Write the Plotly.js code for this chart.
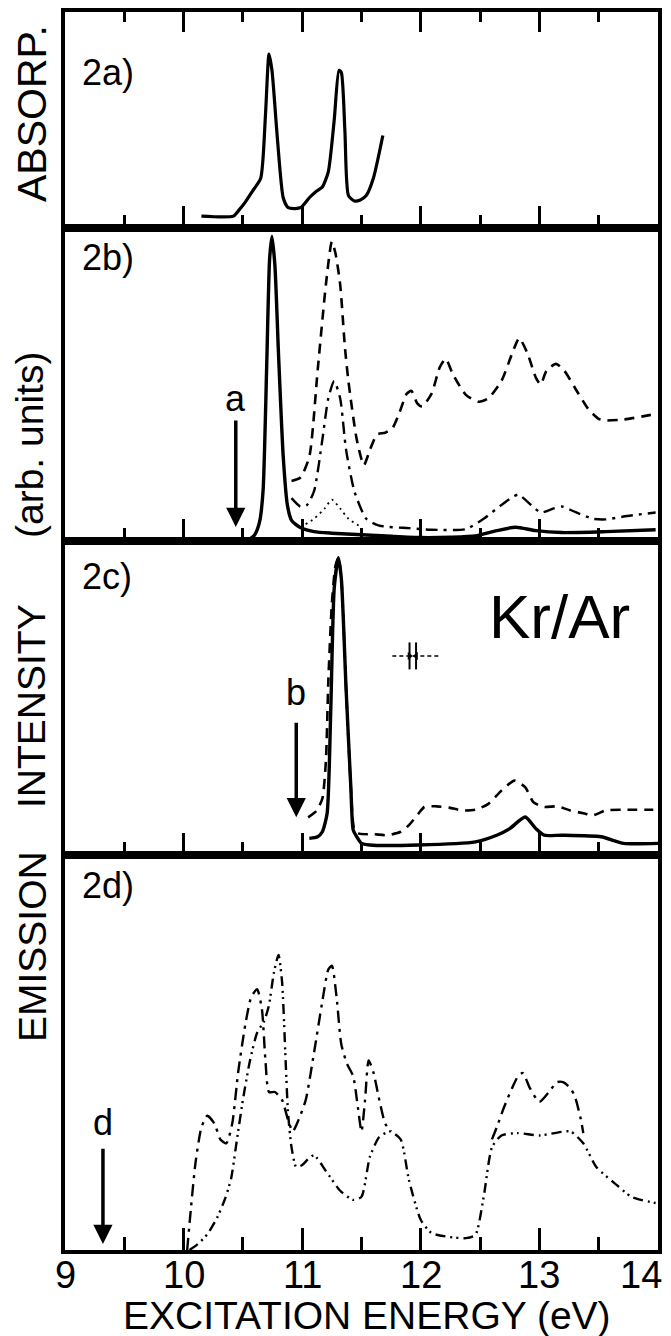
<!DOCTYPE html>
<html>
<head>
<meta charset="utf-8">
<script src="https://cdn.plot.ly/plotly-3.0.1.min.js"></script>
<style>html,body{margin:0;padding:0;background:#fff;}#chart{width:671px;height:1336px;}</style>
</head>
<body>
<div id="chart"></div>
<script>
// ---------- DATA (excitation energy in eV, intensity in arbitrary units 0-100 of panel height) ----------
// Panel 2a: absorption
const absE = [10.15, 10.42, 10.47, 10.52, 10.58, 10.65, 10.69, 10.72, 10.745, 10.79, 10.84, 10.88, 10.94, 10.99, 11.06, 11.12, 11.17, 11.22, 11.27, 11.31, 11.33, 11.36, 11.39, 11.44, 11.49, 11.54, 11.6, 11.68];
const absI = [5.5, 5.5, 8.5, 12, 17, 23, 52, 80.5, 73, 42, 14, 9.5, 9, 9.5, 14, 17, 19, 26, 50, 73, 72, 45, 15, 12.5, 13, 15, 23, 42.8];

// Panel 2b
const bSolidE = [10.555, 10.6, 10.64, 10.67, 10.7, 10.725, 10.745, 10.77, 10.8, 10.84, 10.875, 10.91, 10.98, 11.1, 11.25, 11.5, 11.75, 12.0, 12.25, 12.46, 12.64, 12.8, 12.97, 13.19, 13.56, 13.98];
const bSolidI = [0.5, 2, 6, 16, 55, 90, 97.3, 88, 60, 27, 11.5, 6.6, 4.4, 3, 2.5, 2, 1.5, 1.1, 1.2, 1.6, 3.3, 4.4, 3.3, 2.7, 3, 3.6];
const bDashE = [10.91, 10.985, 11.06, 11.13, 11.2, 11.25, 11.28, 11.32, 11.36, 11.39, 11.46, 11.52, 11.57, 11.63, 11.7, 11.76, 11.82, 11.88, 11.92, 11.97, 12.01, 12.09, 12.16, 12.21, 12.27, 12.38, 12.49, 12.57, 12.68, 12.77, 12.83, 12.9, 12.97, 13.01, 13.06, 13.14, 13.21, 13.3, 13.41, 13.5, 13.56, 13.71, 13.94];
const bDashI = [19.2, 20.3, 26.9, 54.4, 82, 95.6, 92, 82, 62, 51, 32.4, 24.2, 29, 34, 34.6, 36, 41, 47, 48, 44, 43, 47, 55.5, 58.2, 53.3, 46.7, 44.5, 45.6, 51.1, 59.9, 64.8, 59.9, 52.2, 50, 54.4, 56.6, 54.4, 48.9, 42.3, 39, 38.5, 38.8, 40.3];
const bDashDotE = [10.91, 10.985, 11.04, 11.1, 11.17, 11.22, 11.27, 11.32, 11.37, 11.44, 11.54, 11.65, 11.9, 12.09, 12.38, 12.53, 12.68, 12.82, 12.93, 13.01, 13.12, 13.19, 13.3, 13.45, 13.56, 13.74, 13.98];
const bDashDotI = [13.7, 11, 11.5, 15.9, 32.4, 45.6, 51.1, 45.6, 29.1, 15.9, 7.1, 4.9, 4.1, 3.6, 3.8, 7.1, 11.5, 14.8, 11.5, 9.1, 10.4, 11, 9.3, 7.1, 6.9, 8, 9.1];
const bDotE = [10.985, 11.1, 11.19, 11.25, 11.32, 11.39, 11.5];
const bDotI = [4.4, 7.1, 10.4, 13.2, 10.4, 7.1, 4.4];

// Panel 2c
const cSolidE = [11.06, 11.13, 11.17, 11.21, 11.24, 11.27, 11.305, 11.33, 11.37, 11.41, 11.43, 11.46, 11.5, 11.57, 11.98, 12.46, 12.64, 12.75, 12.88, 12.97, 13.04, 13.19, 13.52, 13.71, 14.0];
const cSolidI = [5.3, 5.8, 7.4, 13.2, 45, 85, 94.7, 88, 53, 21.6, 8, 5.8, 3.7, 3.2, 3.2, 4.2, 6.3, 8.4, 12.1, 8.4, 6.3, 6.3, 5.8, 3.7, 3.7];
const cDashE = [11.05, 11.12, 11.17, 11.2, 11.22, 11.25, 11.28, 11.305, 11.33, 11.37, 11.41, 11.44, 11.48, 11.61, 11.72, 11.83, 11.9, 11.98, 12.03, 12.13, 12.24, 12.35, 12.46, 12.57, 12.68, 12.79, 12.88, 12.95, 13.04, 13.15, 13.26, 13.38, 13.45, 13.56, 13.71, 13.96];
const cDashI = [12, 14, 18, 30, 55, 80, 92, 94.7, 88, 53, 21.6, 8, 6.8, 6.6, 6.3, 7.4, 9.5, 13.2, 15.3, 15.5, 15.1, 14.2, 14.4, 16.3, 20.5, 23.7, 21.6, 16.8, 15.3, 15.5, 14.2, 13.2, 12.6, 14.2, 14.4, 14.4];
// resolution indicator (energy span and level)
const resE = [11.76, 12.16];
const resI = [63.4, 63.4];
const resBarE = [11.905, 11.96];

// Panel 2d
const dDashDotE = [10.03, 10.06, 10.1, 10.15, 10.2, 10.26, 10.31, 10.36, 10.41, 10.46, 10.52, 10.57, 10.62, 10.66, 10.69, 10.72, 10.77, 10.83, 10.88, 10.92, 10.97, 11.03, 11.1, 11.17, 11.22, 11.25, 11.29, 11.33, 11.38, 11.43, 11.47, 11.5, 11.53, 11.56, 11.6, 11.65, 11.7, 11.75, null, 12.6, 12.64, 12.7, 12.77, 12.82, 12.86, 12.92, 13.0, 13.08, 13.15, 13.2, 13.26, 13.3, 13.35, 13.37];
const dDashDotI = [0, 10, 22, 31, 34, 32, 28, 27, 32, 45, 57, 64, 66, 61, 48, 40, 40, 38, 33, 30, 33, 38, 50, 63, 71, 72, 64, 52, 47, 44, 36, 30, 38, 48, 45, 38, 32, 30, null, 28, 31, 36, 41, 44, 44.8, 41, 37.5, 40, 42.5, 42.5, 41, 38.8, 33, 29.6];
const dDashDotDotE = [10.05, 10.12, 10.2, 10.28, 10.35, 10.4, 10.45, 10.5, 10.56, 10.62, 10.68, 10.72, 10.76, 10.8, 10.83, 10.86, 10.88, 10.91, 10.95, 11.0, 11.05, 11.1, 11.2, 11.32, 11.43, 11.5, 11.57, 11.65, 11.74, 11.83, 11.9, 12.0, 12.09, 12.24, 12.38, 12.46, 12.53, 12.6, 12.68, 12.82, 13.0, 13.26, 13.37, 13.48, 13.63, 13.78, 13.98];
const dDashDotDotI = [0, 1.5, 4, 8, 13, 18, 28, 38, 48, 55, 58, 62, 70, 74.7, 68, 48, 35, 26, 21, 21.5, 23, 24, 20, 15, 12.7, 13.5, 23.5, 28.6, 30, 28, 17.7, 7.6, 4.3, 3.3, 3, 3.8, 13.4, 26, 29, 29.6, 29, 30, 27, 21, 17, 13.4, 11.9];

// Tick labels
const tickVals = [9, 10, 11, 12, 13, 14];
const tickText = ['9', '10', '11', '12', '13', '14'];

// Marker arrows (excitation energies) : [energy, tail level, head level, label level]
const arrowA = [10.44, 39, 4.5, 45.6];
const arrowB = [10.95, 42.6, 12, 51.9];
const arrowD = [9.32, 26, 1.5, 32.4];

// ---------- STYLE ----------
const FONT = 'Liberation Sans, Arial, sans-serif';
const K = '#000';

function tr(x, y, xa, ya, dash, width) {
  return {x: x, y: y, xaxis: xa, yaxis: ya, type: 'scatter', mode: 'lines',
          line: {color: K, width: width, dash: dash, shape: 'spline', smoothing: 0.6},
          hoverinfo: 'skip', showlegend: false};
}
// invisible copy of the absorption data, to register the top tick axes of panel 2a
function hiddenOn(xa) {
  return {x: absE, y: absI, xaxis: xa, yaxis: 'y', type: 'scatter', mode: 'lines', opacity: 0,
          line: {width: 0.1, color: K}, hoverinfo: 'skip', showlegend: false};
}

const traces = [
  tr(absE, absI, 'x', 'y', 'solid', 3.2),
  hiddenOn('x5'),
  hiddenOn('x6'),
  tr(bSolidE, bSolidI, 'x2', 'y2', 'solid', 3.4),
  tr(bDashE, bDashI, 'x2', 'y2', '10px,7px', 2.6),
  tr(bDashDotE, bDashDotI, 'x2', 'y2', '12px,6px,3px,6px', 2.4),
  tr(bDotE, bDotI, 'x2', 'y2', '2px,4px', 1.8),
  tr(cDashE, cDashI, 'x3', 'y3', '10px,7px', 2.6),
  tr(cSolidE, cSolidI, 'x3', 'y3', 'solid', 3.4),
  {x: resE, y: resI, xaxis: 'x3', yaxis: 'y3', type: 'scatter', mode: 'lines',
   line: {color: K, width: 1.5, dash: '4px,3px'}, hoverinfo: 'skip', showlegend: false},
  {x: [resBarE[0], resBarE[0], null, resBarE[1], resBarE[1]],
   y: [resI[0] - 4.3, resI[0] + 4.3, null, resI[0] - 4.3, resI[0] + 4.3],
   xaxis: 'x3', yaxis: 'y3', type: 'scatter', mode: 'lines',
   line: {color: K, width: 2}, hoverinfo: 'skip', showlegend: false},
  {x: resBarE, y: resI, xaxis: 'x3', yaxis: 'y3', type: 'scatter', mode: 'markers',
   marker: {symbol: ['triangle-right', 'triangle-left'], size: 7, color: K},
   hoverinfo: 'skip', showlegend: false},
  tr(dDashDotE, dDashDotI, 'x4', 'y4', '12px,6px,3px,6px', 2.4),
  tr(dDashDotDotE, dDashDotDotI, 'x4', 'y4', '10px,5px,2px,4px,2px,5px', 2.4)
];

function xax(anchor, extra) {
  return Object.assign({
    anchor: anchor, range: [9, 14], showgrid: false, zeroline: false,
    showline: true, linecolor: K, linewidth: 4, mirror: true,
    ticks: 'inside', ticklen: 22, tickwidth: 3, tickcolor: K, tick0: 9, dtick: 1,
    minor: {ticks: 'inside', dtick: 0.5, tick0: 9, ticklen: 13, tickwidth: 3, tickcolor: K, showgrid: false},
    showticklabels: false, fixedrange: true
  }, extra || {});
}
function topax(dtick, len) {
  return {overlaying: 'x', side: 'top', anchor: 'y', range: [9, 14], showline: false,
          ticks: 'inside', ticklen: len, tickwidth: 3, tickcolor: K, dtick: dtick, tick0: 9,
          showticklabels: false, showgrid: false, zeroline: false};
}
function yax(anchor, domain) {
  return {anchor: anchor, domain: domain, range: [0, 100], showgrid: false, zeroline: false,
          showline: true, linecolor: K, linewidth: 4, mirror: true, ticks: '',
          showticklabels: false, fixedrange: true};
}

const H = 1238; // plot-area height in px
const py = p => (1250 - p) / H;
const last = tickVals.length - 1;

// tick labels of the bottom axis, placed at the axis positions of tickVals
const tickLabelAnns = tickVals.map((v, i) => ({
  text: tickText[i], xref: 'x4', yref: 'paper', x: v, y: py(1275),
  xanchor: i === last ? 'right' : 'center', xshift: i === last ? 6 : 0,
  yanchor: 'middle', showarrow: false, font: {size: 38}
}));

const layout = {
  width: 671, height: 1336,
  margin: {l: 65, r: 13, t: 12, b: 86},
  paper_bgcolor: '#fff', plot_bgcolor: '#fff',
  font: {family: FONT, color: K},
  showlegend: false,
  xaxis: xax('y'),
  xaxis2: xax('y2', {matches: 'x'}),
  xaxis3: xax('y3', {matches: 'x'}),
  xaxis4: xax('y4', {matches: 'x'}),
  xaxis5: topax(0.5, 10),
  xaxis6: topax(1, 20),
  yaxis: yax('x', [py(228), 1]),
  yaxis2: yax('x2', [py(541), py(228)]),
  yaxis3: yax('x3', [py(855), py(541)]),
  yaxis4: yax('x4', [0, py(855)]),
  annotations: tickLabelAnns.concat([
    {text: '2a)', xref: 'x domain', yref: 'y domain', x: 0.025, y: 0.72, xanchor: 'left', yanchor: 'middle', showarrow: false, font: {size: 36}},
    {text: '2b)', xref: 'x2 domain', yref: 'y2 domain', x: 0.025, y: 0.907, xanchor: 'left', yanchor: 'middle', showarrow: false, font: {size: 36}},
    {text: '2c)', xref: 'x3 domain', yref: 'y3 domain', x: 0.025, y: 0.887, xanchor: 'left', yanchor: 'middle', showarrow: false, font: {size: 36}},
    {text: '2d)', xref: 'x4 domain', yref: 'y4 domain', x: 0.025, y: 0.922, xanchor: 'left', yanchor: 'middle', showarrow: false, font: {size: 36}},
    {text: 'Kr/Ar', xref: 'x3', yref: 'y3', x: 13.17, y: 76, xanchor: 'center', yanchor: 'middle', showarrow: false, font: {size: 62}},
    // arrows
    {xref: 'x2', yref: 'y2', axref: 'x2', ayref: 'y2', x: arrowA[0], y: arrowA[2], ax: arrowA[0], ay: arrowA[1], text: '', showarrow: true, arrowhead: 2, arrowsize: 1.1, arrowwidth: 3.5, arrowcolor: K},
    {xref: 'x2', yref: 'y2', x: arrowA[0], y: arrowA[3], text: 'a', showarrow: false, font: {size: 36}, yanchor: 'middle'},
    {xref: 'x3', yref: 'y3', axref: 'x3', ayref: 'y3', x: arrowB[0], y: arrowB[2], ax: arrowB[0], ay: arrowB[1], text: '', showarrow: true, arrowhead: 2, arrowsize: 1.1, arrowwidth: 3.5, arrowcolor: K},
    {xref: 'x3', yref: 'y3', x: arrowB[0], y: arrowB[3], text: 'b', showarrow: false, font: {size: 36}, yanchor: 'middle'},
    {xref: 'x4', yref: 'y4', axref: 'x4', ayref: 'y4', x: arrowD[0], y: arrowD[2], ax: arrowD[0], ay: arrowD[1], text: '', showarrow: true, arrowhead: 2, arrowsize: 1.1, arrowwidth: 3.5, arrowcolor: K},
    {xref: 'x4', yref: 'y4', x: arrowD[0], y: arrowD[3], text: 'd', showarrow: false, font: {size: 36}, yanchor: 'middle'},
    // axis titles
    {text: 'ABSORP.', xref: 'paper', yref: 'paper', x: (32 - 65) / 593, y: py(114), textangle: -90, showarrow: false, xanchor: 'center', yanchor: 'middle', font: {size: 41}},
    {text: 'EMISSION', xref: 'paper', yref: 'paper', x: (32 - 65) / 593, y: py(947), textangle: -90, showarrow: false, xanchor: 'center', yanchor: 'middle', font: {size: 39}},
    {text: 'INTENSITY', xref: 'paper', yref: 'paper', x: (32 - 65) / 593, y: py(706), textangle: -90, showarrow: false, xanchor: 'center', yanchor: 'middle', font: {size: 39}},
    {text: '(arb. units)', xref: 'paper', yref: 'paper', x: (30 - 65) / 593, y: py(445), textangle: -90, showarrow: false, xanchor: 'center', yanchor: 'middle', font: {size: 39}},
    {text: 'EXCITATION ENERGY (eV)', xref: 'paper', yref: 'paper', x: (367 - 65) / 593, y: py(1316), showarrow: false, xanchor: 'center', yanchor: 'middle', font: {size: 39}}
  ])
};

Plotly.newPlot('chart', traces, layout, {staticPlot: true, displayModeBar: false});
</script>
</body>
</html>
